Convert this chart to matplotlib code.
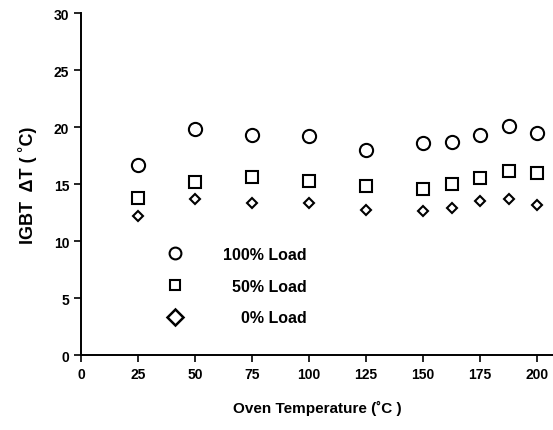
import matplotlib.pyplot as plt
from matplotlib.lines import Line2D

plt.rcParams['font.family'] = ['Liberation Sans', 'DejaVu Sans']
plt.rcParams['font.weight'] = 'bold'

# data
temps = [25, 50, 75, 100, 125, 150, 162.5, 175, 187.5, 200]
load_100 = [16.7, 19.8, 19.3, 19.2, 18.0, 18.6, 18.7, 19.3, 20.1, 19.5]
load_50 = [13.8, 15.2, 15.6, 15.3, 14.8, 14.6, 15.0, 15.5, 16.1, 16.0]
load_0 = [12.2, 13.7, 13.3, 13.3, 12.7, 12.6, 12.9, 13.5, 13.7, 13.2]

# labels padded so they line up on the right like the original
labels = ['100% Load', '  50% Load', '    0% Load']
xticks = [0, 25, 50, 75, 100, 125, 150, 175, 200]
yticks = [0, 5, 10, 15, 20, 25, 30]

fig = plt.figure(figsize=(5.53, 4.31), dpi=100)
ax = fig.add_axes([0.1465, 0.174, 0.8535, 0.7935])

ax.plot(temps, load_100, 'o', ms=9.5, mfc='white', mec='black', mew=1.5, ls='none')
ax.plot(temps, load_50, 's', ms=8.5, mfc='white', mec='black', mew=1.5, ls='none')
ax.plot(temps, load_0, 'D', ms=5.5, mfc='white', mec='black', mew=1.5, ls='none')

ax.set_xlim(0, 207)
ax.set_ylim(0, 30)
ax.set_xticks(xticks)
ax.set_yticks(yticks)
ax.spines['top'].set_visible(False)
ax.spines['right'].set_visible(False)
ax.spines['left'].set_linewidth(1.4)
ax.spines['bottom'].set_linewidth(1.4)
ax.tick_params(direction='out', length=5, width=1.2, labelsize=10)

ax.set_xlabel('Oven Temperature (\u02daC )', fontsize=11, fontweight='bold', labelpad=14)
ax.set_ylabel('IGBT  \u0394T ( \u02daC)', fontsize=13, fontweight='bold', labelpad=12)

handles = [
    Line2D([], [], marker='o', ms=8.5, mfc='white', mec='black', mew=1.5, ls='none'),
    Line2D([], [], marker='s', ms=7, mfc='white', mec='black', mew=1.5, ls='none'),
    Line2D([], [], marker='D', ms=8, mfc='white', mec='black', mew=1.8, ls='none'),
]
ax.legend(handles, labels, frameon=False, loc='upper left',
          bbox_to_anchor=(0.152, 0.335), fontsize=11.5, labelspacing=1.05,
          handletextpad=2.0, borderaxespad=0)

fig.savefig('out.png', dpi=100)
